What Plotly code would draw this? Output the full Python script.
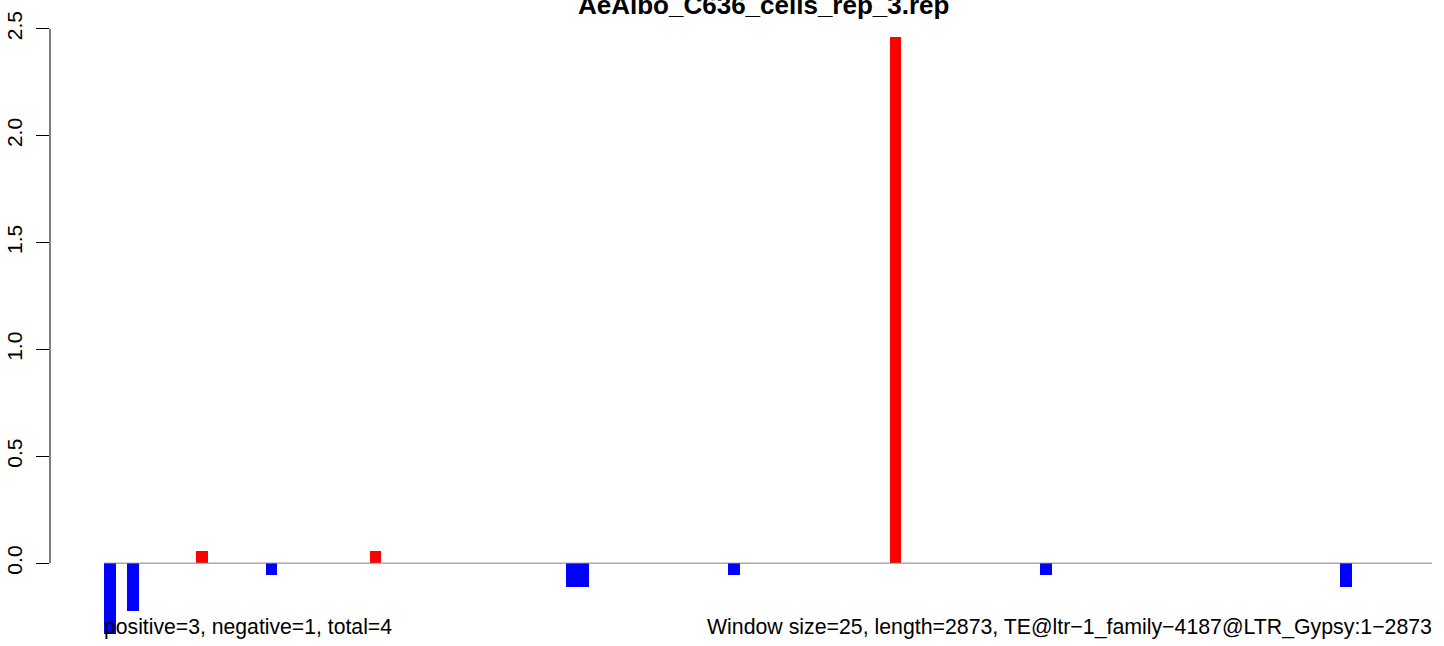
import plotly.graph_objects as go

# Data
window_starts = [0, 50, 200, 350, 575, 1000, 1025, 1350, 1700, 2025, 2675]
values = [-0.333, -0.222, 0.056, -0.056, 0.056, -0.111, -0.111, -0.056, 2.46, -0.056, -0.111]
window_size = 25
seq_length = 2873
y_ticks = [0.0, 0.5, 1.0, 1.5, 2.0, 2.5]
y_tick_labels = ["0.0", "0.5", "1.0", "1.5", "2.0", "2.5"]
title_text = "AeAlbo_C636_cells_rep_3.rep"
left_note = "positive=3, negative=1, total=4"
right_note = "Window size=25, length=2873, TE@ltr\u22121_family\u22124187@LTR_Gypsy:1\u22122873"

W, H = 1444, 646
L, R, T, B = 50, 12, 18, 8
data_left_px = 104
px_per_unit = (W - R - data_left_px) / seq_length
x_min = -(data_left_px - L) / px_per_unit

centers = [s + window_size / 2 for s in window_starts]
colors = ["#FF0000" if v > 0 else "#0000FF" for v in values]

FONT = "Liberation Sans, Arial, sans-serif"

fig = go.Figure()
fig.add_trace(go.Bar(
    x=centers, y=values, width=[window_size] * len(values),
    marker=dict(color=colors, line=dict(width=0)),
    showlegend=False, hoverinfo="x+y",
))

fig.add_shape(type="line", xref="x", yref="y", x0=0, x1=seq_length, y0=0, y1=0,
              line=dict(color="#808080", width=1), layer="above")
fig.add_shape(type="line", xref="paper", yref="y", x0=0, x1=0, y0=y_ticks[0], y1=y_ticks[-1],
              line=dict(color="black", width=1))

fig.add_annotation(xref="x", yref="y", x=0, y=-0.31, text=left_note, showarrow=False,
                   xanchor="left", yanchor="middle", xshift=-2, yshift=2,
                   font=dict(family=FONT, size=21.2, color="black"))
fig.add_annotation(xref="x", yref="y", x=seq_length, y=-0.31, text=right_note, showarrow=False,
                   xanchor="right", yanchor="middle", xshift=2, yshift=2,
                   font=dict(family=FONT, size=21.3, color="black"))
fig.add_annotation(xref="paper", yref="paper", x=(763 - L) / (W - L - R), y=1.018,
                   text="<b>" + title_text + "</b>", showarrow=False,
                   xanchor="center", yanchor="middle", yshift=2,
                   font=dict(family=FONT, size=26, color="black"))

fig.update_layout(
    width=W, height=H,
    margin=dict(l=L, r=R, t=T, b=B, pad=0, autoexpand=False),
    plot_bgcolor="white", paper_bgcolor="white",
    bargap=0,
    xaxis=dict(range=[x_min, seq_length], visible=False, showgrid=False, zeroline=False,
               automargin=False),
    yaxis=dict(range=[-0.35, 2.55], tickmode="array", tickvals=y_ticks, ticktext=y_tick_labels,
               ticks="outside", ticklen=13, tickwidth=1, tickcolor="black",
               tickangle=-90, ticklabelstandoff=6, automargin=False,
               tickfont=dict(family=FONT, size=21, color="black"),
               showgrid=False, zeroline=False, showline=False),
)

fig.write_html("out.html", config={"displayModeBar": False},
               post_script="document.body.style.margin='0';")
